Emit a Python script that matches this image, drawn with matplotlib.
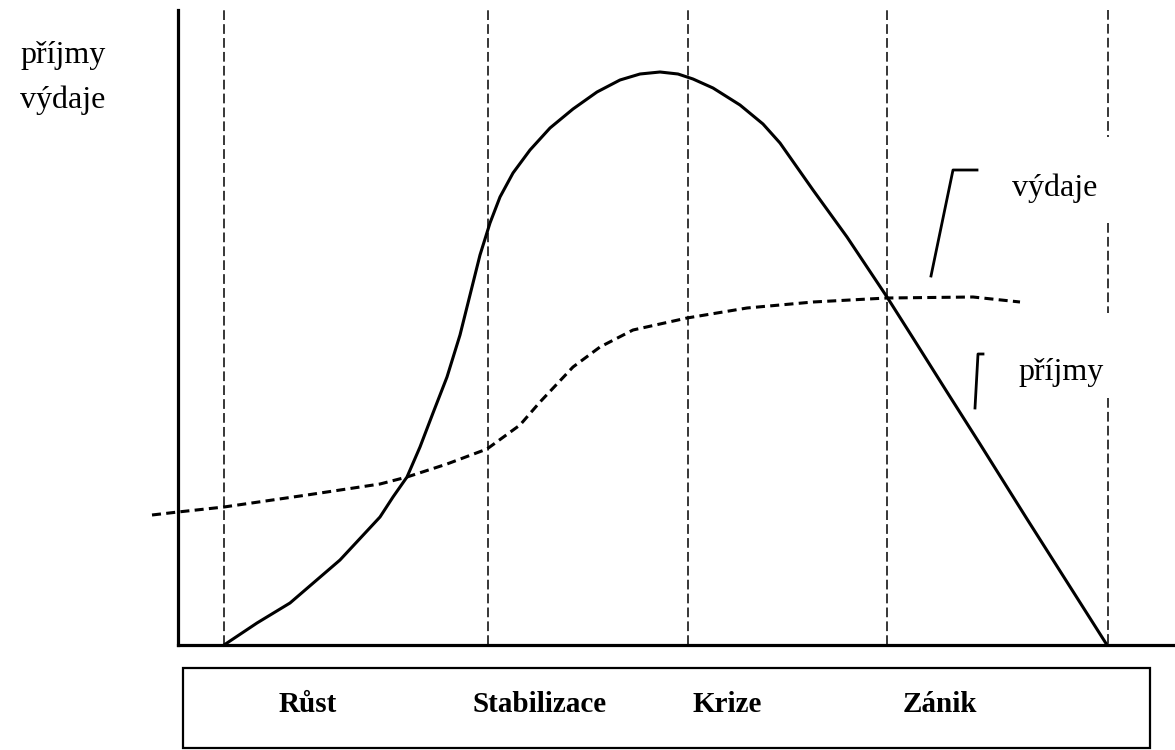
import matplotlib
matplotlib.use("Agg")
import matplotlib.pyplot as plt
from matplotlib.patches import Rectangle

plt.rcParams['font.family'] = ['Liberation Serif', 'DejaVu Serif']
plt.rcParams['lines.scale_dashes'] = False

# phases of the life cycle (x = time, arbitrary units)
phases = ['Růst', 'Stabilizace', 'Krize', 'Zánik']
phase_bounds = [46, 310, 510, 709, 930]
phase_label_x = [130, 362, 549, 762]

# příjmy (income) - solid curve
prijmy_x = [46, 79, 112, 162, 202, 215, 229, 242, 255, 269, 282, 292, 302, 312,
            322, 335, 352, 372, 395, 419, 442, 462, 482, 500, 515, 535, 562, 585,
            602, 635, 669, 709, 735, 769, 802, 849, 929]
prijmy_y = [0, 22, 42, 85, 128, 148, 168, 198, 232, 268, 310, 350, 390, 422,
            448, 472, 495, 517, 536, 553, 565, 571, 573, 571, 566, 557, 540, 521,
            502, 455, 408, 348, 307, 253, 201, 126, 0]

# výdaje (expenses) - dashed curve
vydaje_x = [-26, 0, 46, 129, 202, 229, 269, 309, 342, 362, 395, 422, 455, 509,
            569, 635, 709, 795, 842]
vydaje_y = [130, 133, 138, 150, 161, 168, 181, 196, 220, 243, 278, 298, 315, 327,
            337, 343, 347, 348, 343]

fig = plt.figure(figsize=(11.75, 7.5), dpi=100)
ax = fig.add_axes([0, 0, 1, 1])
ax.set_xlim(-178, 997)
ax.set_ylim(-105, 645)

# axes as a simple cross
for s in ['top', 'right']:
    ax.spines[s].set_visible(False)
ax.spines['left'].set_position(('data', 0))
ax.spines['left'].set_bounds(0, 635)
ax.spines['bottom'].set_position(('data', 0))
ax.spines['bottom'].set_bounds(0, 997)
for s in ['left', 'bottom']:
    ax.spines[s].set_linewidth(2.3)
ax.set_xticks([])
ax.set_yticks([])

# phase dividers
for xb in phase_bounds[:-1]:
    ax.plot([xb, xb], [0, 635], color='black', lw=1.1, dashes=(7, 3))
# last divider is broken where the labels are
for y0, y1 in [(635, 508), (422, 332), (247, 0)]:
    ax.plot([phase_bounds[-1]] * 2, [y0, y1], color='black', lw=1.1, dashes=(7, 3))

ax.plot(prijmy_x, prijmy_y, color='black', lw=2.2, solid_joinstyle='round')
ax.plot(vydaje_x, vydaje_y, color='black', lw=2.2, dashes=(6.5, 3.8))

# leader lines to the labels
ax.plot([799, 775, 753], [475, 475, 369], color='black', lw=2.0)
ax.plot([805, 800, 797], [291, 291, 237], color='black', lw=2.0)
ax.text(877, 449, 'výdaje', fontsize=23, ha='center', va='baseline')
ax.text(883, 265, 'příjmy', fontsize=23, ha='center', va='baseline')

# y-axis label
ax.text(-115, 582, 'příjmy', fontsize=23, ha='center', va='baseline')
ax.text(-115, 537, 'výdaje', fontsize=23, ha='center', va='baseline')

# phase box under the axis
ax.add_patch(Rectangle((5, -103), 967, 80, fill=False, edgecolor='black',
                       lw=1.6, clip_on=False))
for name, xl in zip(phases, phase_label_x):
    ax.text(xl, -60, name, fontsize=21, fontweight='bold', ha='center', va='center')

plt.savefig('out.png', dpi=100)
